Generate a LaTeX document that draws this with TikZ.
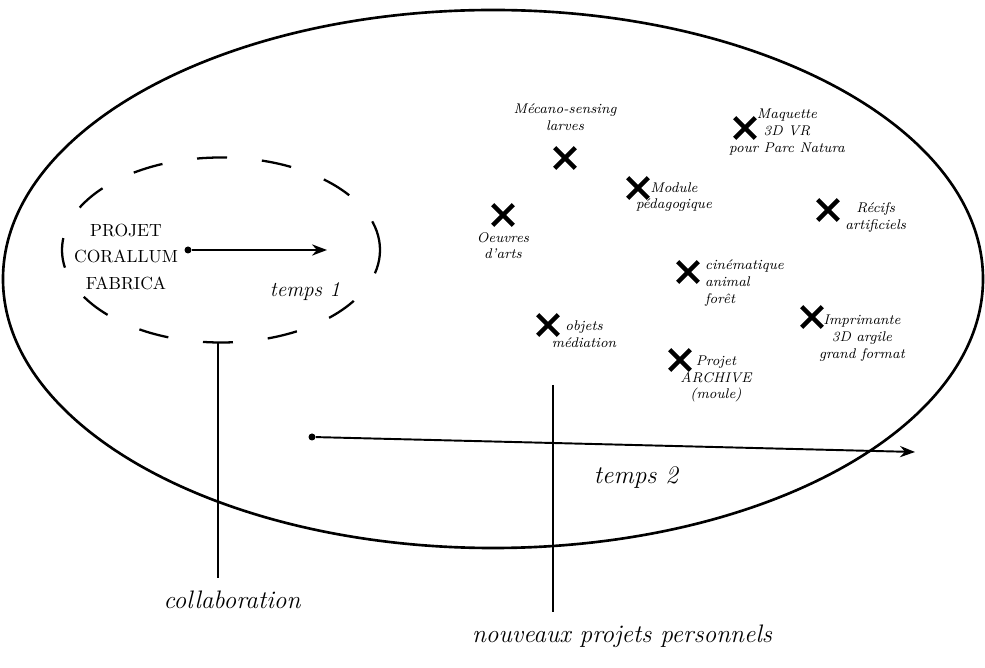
\documentclass[tikz,border=0pt]{standalone}
\usepackage{tikz}
\usetikzlibrary{positioning,arrows.meta,shapes.geometric,shapes.misc}
\tikzset{%
  fieldShape/.style={ellipse, draw=black, line width=1.5pt,
    minimum width=196mm, minimum height=107.6mm, inner sep=0pt},
  zoneShape/.style={ellipse, draw=black, line width=1.3pt,
    dash pattern=on 6mm off 7mm, minimum width=63.6mm, minimum height=37mm, inner sep=0pt},
  markX/.style={cross out, draw=black, line width=2.6pt,
    minimum size=3.2mm, inner sep=0pt},
  ideaText/.style={font=\footnotesize\itshape, align=center, inner sep=1pt},
  bigText/.style={font=\itshape, inner sep=1pt},
  startDot/.style={circle, fill=black, inner sep=0pt, minimum size=1.4mm},
  arrowTime/.style={-{Stealth[length=3mm]}, line width=1.1pt},
  leader/.style={line width=1.1pt},
}
\begin{document}
\begin{tikzpicture}[x=0.2mm, y=-0.2mm]
  \useasboundingbox (0,0) rectangle (985,668);
  % outer field and the first phase
  \node[fieldShape] (field) at (493,279) {};
  \node[zoneShape]  (zone)  at (221,250) {};
  \node[align=center, font=\normalsize, inner sep=1pt] (corallum) at (126,257)
    {PROJET\\[3pt]CORALLUM\\[3pt]FABRICA};
  \node[startDot] (t1start) at (188,250) {};
  \coordinate (t1end) at (327,250);
  \draw[arrowTime] (t1start) -- (t1end);
  \node[bigText] (temps1) at (305,292) {\large temps 1};

  % second phase
  \node[startDot] (t2start) at (312,437) {};
  \coordinate (t2end) at (915,452);
  \draw[arrowTime] (t2start) -- (t2end);
  \node[bigText] (temps2) at (636,478) {\Large temps 2};

  % new projects
  \node[markX] (xLarves)   at (565,158) {};
  \node[ideaText, above=3mm of xLarves] (tLarves) {Mécano-sensing\\larves};
  \node[markX] (xMaquette) at (745,128) {};
  \node[ideaText] (tMaquette) at (787,132) {Maquette\\3D VR\\pour Parc Natura};
  \node[markX] (xModule)   at (638,188) {};
  \node[ideaText] (tModule) at (674,197) {Module\\pédagogique};
  \node[markX] (xOeuvres)  at (503,215) {};
  \node[ideaText, below=1mm of xOeuvres] (tOeuvres) {Oeuvres\\d'arts};
  \node[markX] (xRecifs)   at (828,210) {};
  \node[ideaText, right=1mm of xRecifs, yshift=-1.5mm] (tRecifs) {Récifs\\artificiels};
  \node[markX] (xCine)     at (688,272) {};
  \node[ideaText, align=left, anchor=north west] (tCine) at (703,258) {cinématique\\animal\\forêt};
  \node[markX] (xObjets)   at (548,325) {};
  \node[ideaText] (tObjets) at (584,334) {objets\\médiation};
  \node[markX] (xArchive)  at (680,360) {};
  \node[ideaText] (tArchive) at (716,379) {Projet\\ARCHIVE\\(moule)};
  \node[markX] (xPrinter)  at (812,317) {};
  \node[ideaText] (tPrinter) at (862,338) {Imprimante\\3D argile\\grand format};

  % labels below
  \node[bigText] (collab) at (232,600) {\Large collaboration};
  \coordinate (cTop) at (218,342);
  \coordinate (cBot) at (218,578);
  \draw[leader] (cTop) -- (cBot);
  \node[bigText] (nouveaux) at (622,636) {\Large nouveaux projets personnels};
  \coordinate (nTop) at (553,385);
  \coordinate (nBot) at (553,612);
  \draw[leader] (nTop) -- (nBot);
\end{tikzpicture}
\end{document}
